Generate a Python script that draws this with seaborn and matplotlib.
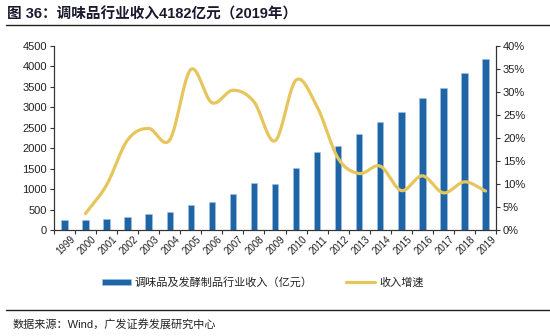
import numpy as np
import pandas as pd
import matplotlib
matplotlib.use("Agg")
import matplotlib.pyplot as plt
import seaborn as sns
from matplotlib.lines import Line2D
from matplotlib.patches import Patch

sns.set_style("white")
plt.rcParams['font.family'] = ['Liberation Sans', 'Noto Sans CJK SC', 'DejaVu Sans']
plt.rcParams['axes.unicode_minus'] = False

years = [str(y) for y in range(1999, 2020)]
revenue = [245, 250, 277, 325, 383, 448, 611, 684, 888, 1141, 1135,
           1509, 1915, 2054, 2339, 2640, 2877, 3219, 3471, 3838, 4182]
growth_years = years[1:]
growth = [3.6, 9.8, 19.6, 22.1, 19.6, 34.9, 27.7, 30.4, 27.9, 19.4,
          32.6, 26.8, 15.6, 12.3, 13.9, 8.6, 11.8, 8.1, 10.5, 8.5]

bar_label = "调味品及发酵制品行业收入（亿元）"
line_label = "收入增速"
title = "图 36：调味品行业收入4182亿元（2019年）"
source = "数据来源：Wind，广发证券发展研究中心"

bar_color = "#1F65A6"
line_color = "#E6C65C"
text_color = "#222222"

fig = plt.figure(figsize=(5.5, 3.36), dpi=100)
ax = fig.add_axes([0.098, 0.315, 0.804, 0.548])

df = pd.DataFrame({"year": years, "revenue": revenue})
sns.barplot(data=df, x="year", y="revenue", color=bar_color, width=0.3,
            edgecolor="#9DC3E6", linewidth=0.4, saturation=1, ax=ax)

ax.set_xlim(-0.5, len(years) - 0.5)
ax.set_ylim(0, 4500)
ax.set_yticks(np.arange(0, 4501, 500))
ax.set_xlabel("")
ax.set_ylabel("")

# smoothed growth line (Catmull-Rom through the data points)
gx = np.array([years.index(y) for y in growth_years], dtype=float)
gy = np.array(growth, dtype=float)
px = np.concatenate([[2 * gx[0] - gx[1]], gx, [2 * gx[-1] - gx[-2]]])
py = np.concatenate([[2 * gy[0] - gy[1]], gy, [2 * gy[-1] - gy[-2]]])
sx, sy = [], []
for i in range(1, len(px) - 2):
    t = np.linspace(0, 1, 25)
    for arr, out in ((px, sx), (py, sy)):
        p0, p1, p2, p3 = arr[i - 1], arr[i], arr[i + 1], arr[i + 2]
        out.extend(0.5 * ((2 * p1) + (-p0 + p2) * t +
                          (2 * p0 - 5 * p1 + 4 * p2 - p3) * t ** 2 +
                          (-p0 + 3 * p1 - 3 * p2 + p3) * t ** 3))

ax2 = ax.twinx()
ax2.plot(sx, sy, color=line_color, lw=2.3, solid_capstyle="round")
ax2.set_ylim(0, 40)
ax2.set_yticks(np.arange(0, 41, 5))
ax2.set_yticklabels([f"{v}%" for v in range(0, 41, 5)])

for a in (ax, ax2):
    a.spines["top"].set_visible(False)
    for s in ("left", "right", "bottom"):
        a.spines[s].set_color("#333333")
        a.spines[s].set_linewidth(0.8)

ax.tick_params(axis="y", direction="out", length=3, width=0.8, color="#333333",
               labelsize=8, labelcolor=text_color, pad=2, left=True)
ax2.tick_params(axis="y", direction="out", length=3, width=0.8, color="#333333",
                labelsize=8, labelcolor=text_color, pad=2, right=True)
ax.set_xticks(range(len(years)))
ax.set_xticklabels(years, rotation=45, ha="right", rotation_mode="anchor",
                   fontsize=7, color=text_color)
ax.tick_params(axis="x", which="major", length=0, pad=3)
ax.set_xticks(np.arange(-0.5, len(years), 1), minor=True)
ax.tick_params(axis="x", which="minor", direction="out", length=3, width=0.8,
               color="#333333", bottom=True)
for lbl in ax.get_xticklabels():
    lbl.set_transform(lbl.get_transform() + matplotlib.transforms.ScaledTranslation(4/72, 0, fig.dpi_scale_trans))

handles = [Patch(facecolor=bar_color, edgecolor="#9DC3E6", linewidth=0.4),
           Line2D([0], [0], color=line_color, lw=2.3)]
fig.legend(handles, [bar_label, line_label], loc="center", ncol=2,
           bbox_to_anchor=(0.478, 0.16), frameon=False, fontsize=8,
           handlelength=2.6, handleheight=0.5, columnspacing=3.0,
           handletextpad=0.4, labelcolor=text_color)

fig.text(0.012, 0.958, title, fontsize=10.5, fontweight="bold",
         color="#1A1A2E", ha="left", va="center")
fig.add_artist(Line2D([0.01, 1.0], [0.925, 0.925], color="#222222", lw=1.0))
fig.add_artist(Line2D([0.01, 1.0], [0.077, 0.077], color="#222222", lw=1.0))
fig.text(0.022, 0.035, source, fontsize=8, color=text_color,
         ha="left", va="center")

fig.savefig("out.png", dpi=100)
